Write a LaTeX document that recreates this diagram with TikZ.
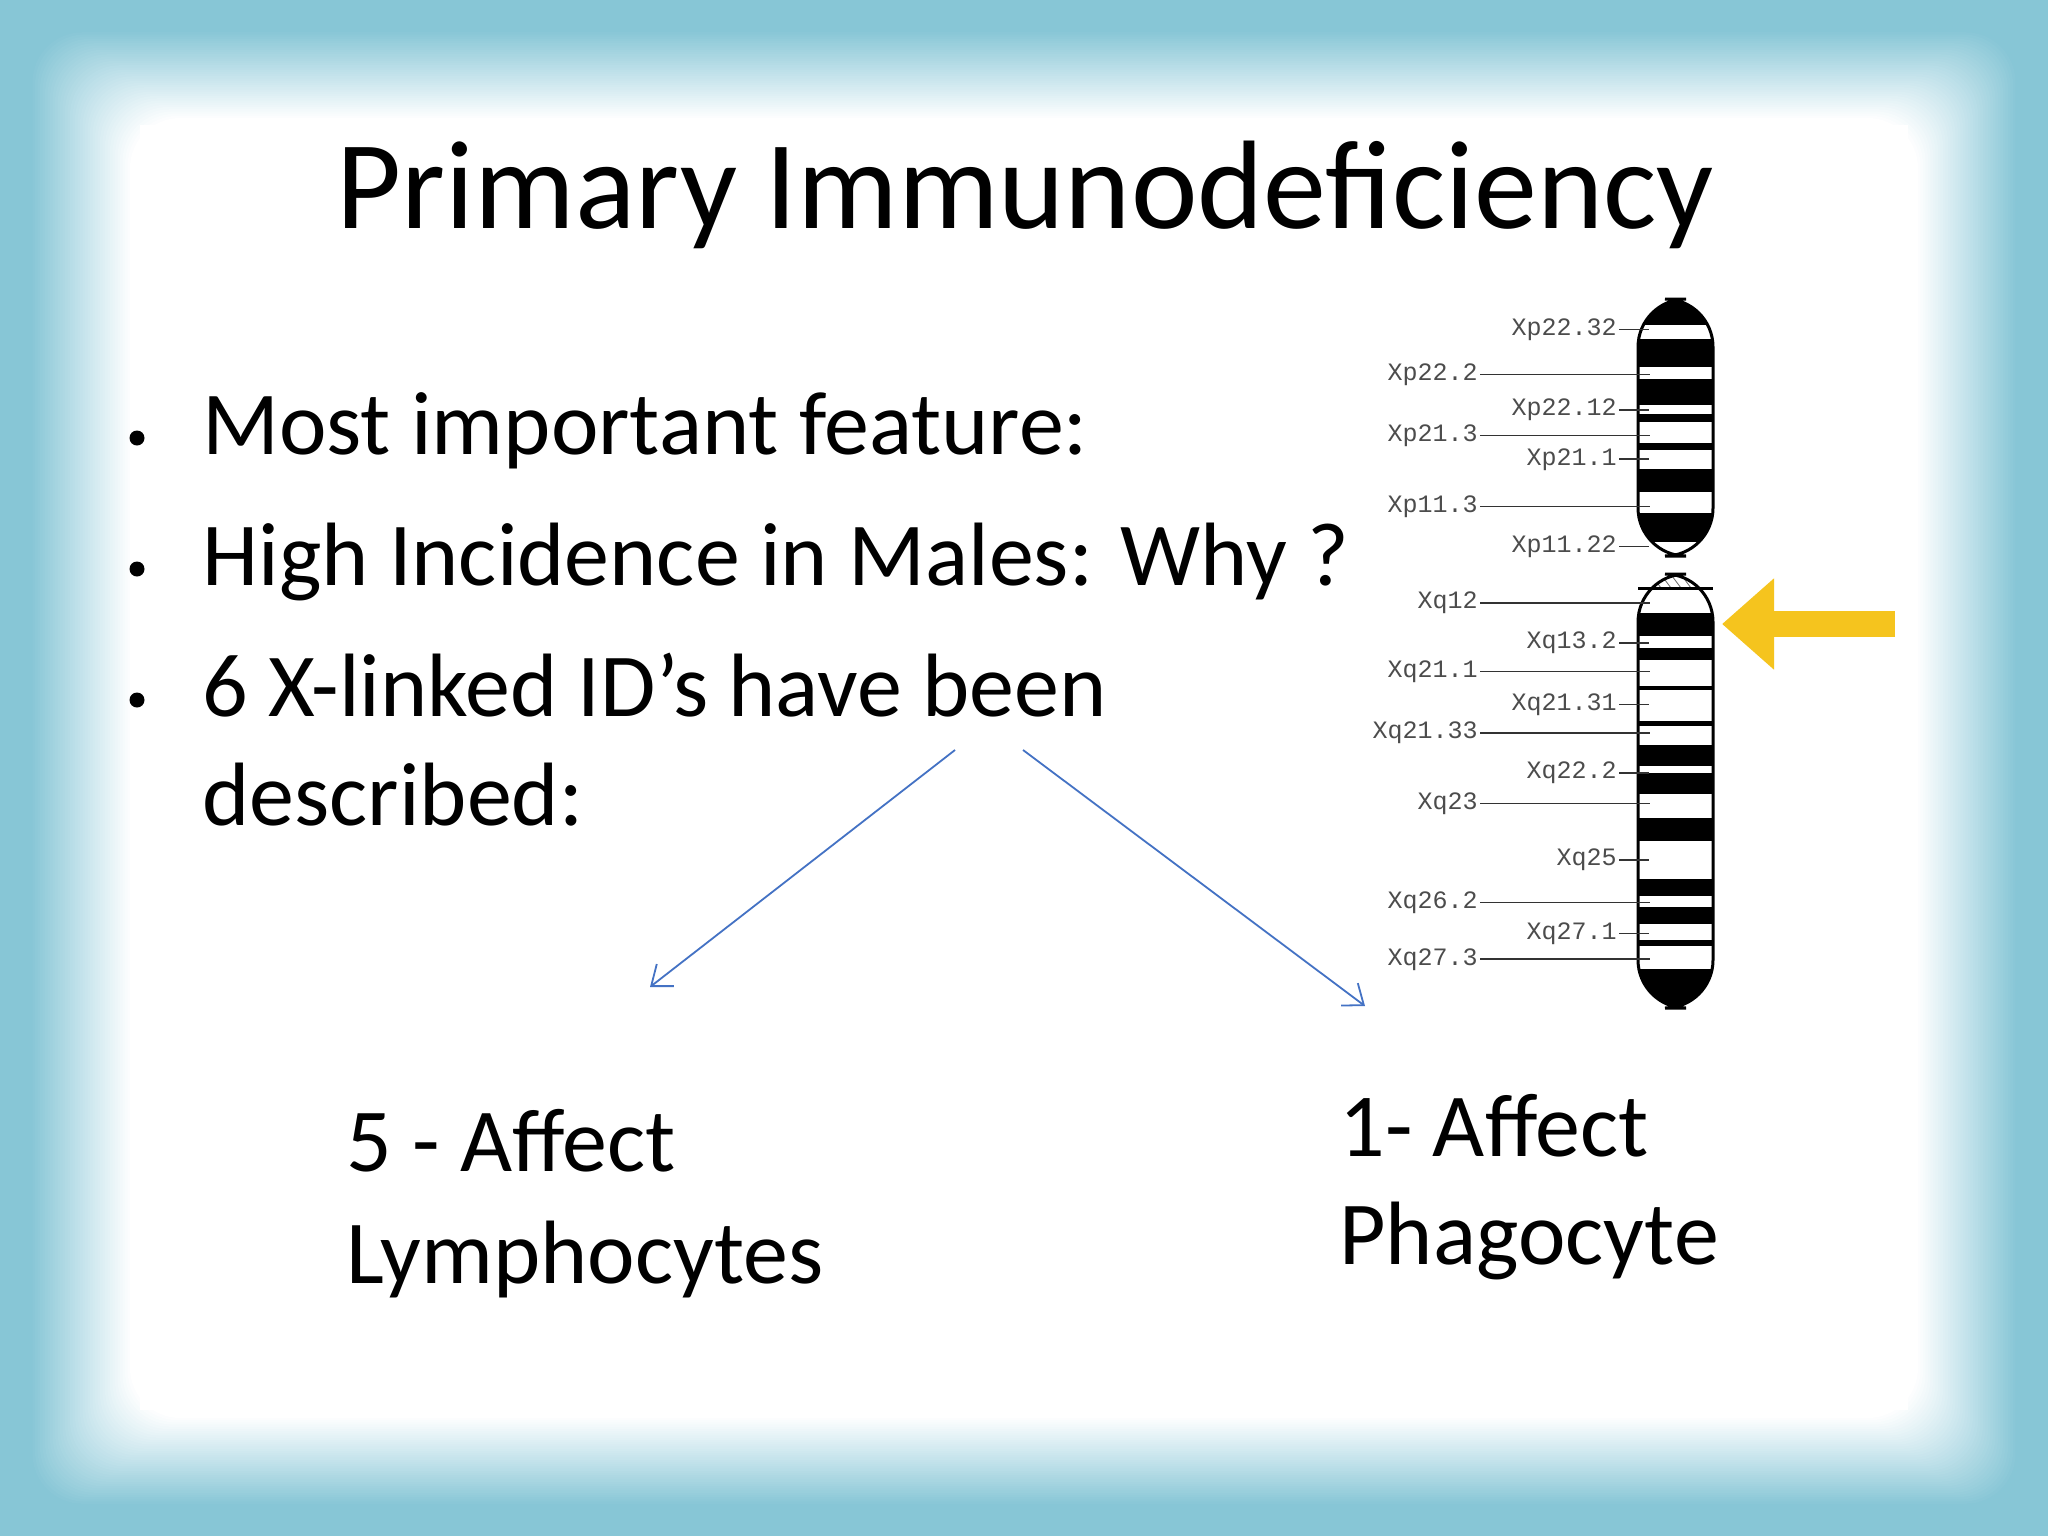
\documentclass[tikz,border=0pt]{standalone}
\usepackage{fontspec}
\setmainfont{Carlito}
\newfontfamily\monof{Liberation Mono}
\usetikzlibrary{arrows.meta}
\definecolor{bord}{RGB}{135,198,214}
\definecolor{arrblue}{RGB}{68,114,196}
\definecolor{gold}{RGB}{245,196,30}
\newcommand{\bandblk}[2]{\fill[black] (1638,{280+#1/2.12}) rectangle (1713,{280+#2/2.12});}
\begin{document}
\begin{tikzpicture}[x=0.5pt,y=-0.5pt,
  body/.style={font=\fontsize{45}{54}\selectfont,anchor=base west,inner sep=0},
  lab/.style={font=\monof\fontsize{12.5}{12.5}\selectfont,text=black!70,inner sep=1},
  ln/.style={black!80,line width=0.8}]
\useasboundingbox (0,0) rectangle (2048,1536);
\fill[bord] (0,0) rectangle (2048,1536);
\foreach \i in {0,...,40}{
  \pgfmathsetmacro\m{\i*2.5}
  \fill[white!\m!bord,rounded corners=25] ({30+\i*2.5},{30+\i*2.2}) rectangle ({2018-\i*2.5},{1506-\i*2.2});
}
\fill[white] (140,125) rectangle (1908,1410);
% title
\node[font=\fontsize{63}{70}\selectfont,anchor=base] (title) at (1025,228) {Primary Immunodeficiency};
% bullets
\node[body] (b1) at (202,454) {Most important feature:};
\node[body] (b2) at (202,585) {High Incidence in Males: Why ?};
\node[body] (b3) at (202,716) {6 X-linked ID’s have been};
\node[body] (b3b) at (202,825) {described:};
\foreach \y/\n in {454/d1,585/d2,716/d3}{\fill (137,{\y-16}) circle (7.5) coordinate (\n);}
\node[body] (l1) at (346,1171) {5 - Affect};
\node[body] (l2) at (346,1283) {Lymphocytes};
\node[body] (r1) at (1339,1156) {1- Affect};
\node[body] (r2) at (1339,1264) {Phagocyte};
\coordinate (s1) at (955,750); \coordinate (e1) at (650,987);
\coordinate (s2) at (1023,750); \coordinate (e2) at (1365,1006);
\draw[arrblue,line width=0.9,-{Straight Barb[length=9,width=14]}] (s1) -- (e1);
\draw[arrblue,line width=0.9,-{Straight Barb[length=9,width=14]}] (s2) -- (e2);
% chromosome p arm
\begin{scope}
\clip[rounded corners=24] (1638,299) rectangle (1713,556);
\fill[white] (1638,299) rectangle (1713,556);
\bandblk{30}{95}\bandblk{125}{185}\bandblk{210}{265}\bandblk{285}{300}\bandblk{345}{360}\bandblk{400}{450}\bandblk{495}{555}
\end{scope}
\draw[black,line width=1.5,rounded corners=24] (1638,299) rectangle (1713,556);
\begin{scope}
\clip[rounded corners=24] (1638,574) rectangle (1713,1008);
\fill[white] (1638,574) rectangle (1713,1008);
\foreach \xx in {1642,1652,...,1712}{\draw[black!60] (\xx,576)--(\xx+9,588);}
\bandblk{705}{755}\bandblk{780}{805}\bandblk{860}{870}\bandblk{935}{945}\bandblk{985}{1030}\bandblk{1045}{1090}\bandblk{1140}{1190}\bandblk{1270}{1305}\bandblk{1330}{1365}\bandblk{1400}{1412}\bandblk{1460}{1560}
\end{scope}
\draw[black,line width=1.5,rounded corners=24] (1638,574) rectangle (1713,1008);
\draw[black,line width=1.5] (1638,588) -- (1713,588);
% labels
\foreach \z/\t/\k in {105/Xp22.32/s,200/Xp22.2/l,275/Xp22.12/s,330/Xp21.3/l,380/Xp21.1/s,480/Xp11.3/l,565/Xp11.22/s,685/Xq12/l,770/Xq13.2/s,830/Xq21.1/l,900/Xq21.31/s,960/Xq21.33/l,1045/Xq22.2/s,1110/Xq23/l,1230/Xq25/s,1320/Xq26.2/l,1385/Xq27.1/s,1440/Xq27.3/l}{
  \pgfmathsetmacro\yy{280+\z/2.12}
  \if\k s
    \node[lab,anchor=east] (n\z) at (1619,\yy) {\t};
    \draw[ln] (n\z.east) -- ++(30,0);
  \else
    \node[lab,anchor=east] (n\z) at (1480,\yy) {\t};
    \draw[ln] (n\z.east) -- (1650,\yy);
  \fi
}
% yellow arrow
\coordinate (ya) at (1895,624); \coordinate (yb) at (1722,624);
\draw[gold,line width=13,-{Triangle[length=26,width=44]}] (ya) -- (yb);
\end{tikzpicture}
\end{document}
